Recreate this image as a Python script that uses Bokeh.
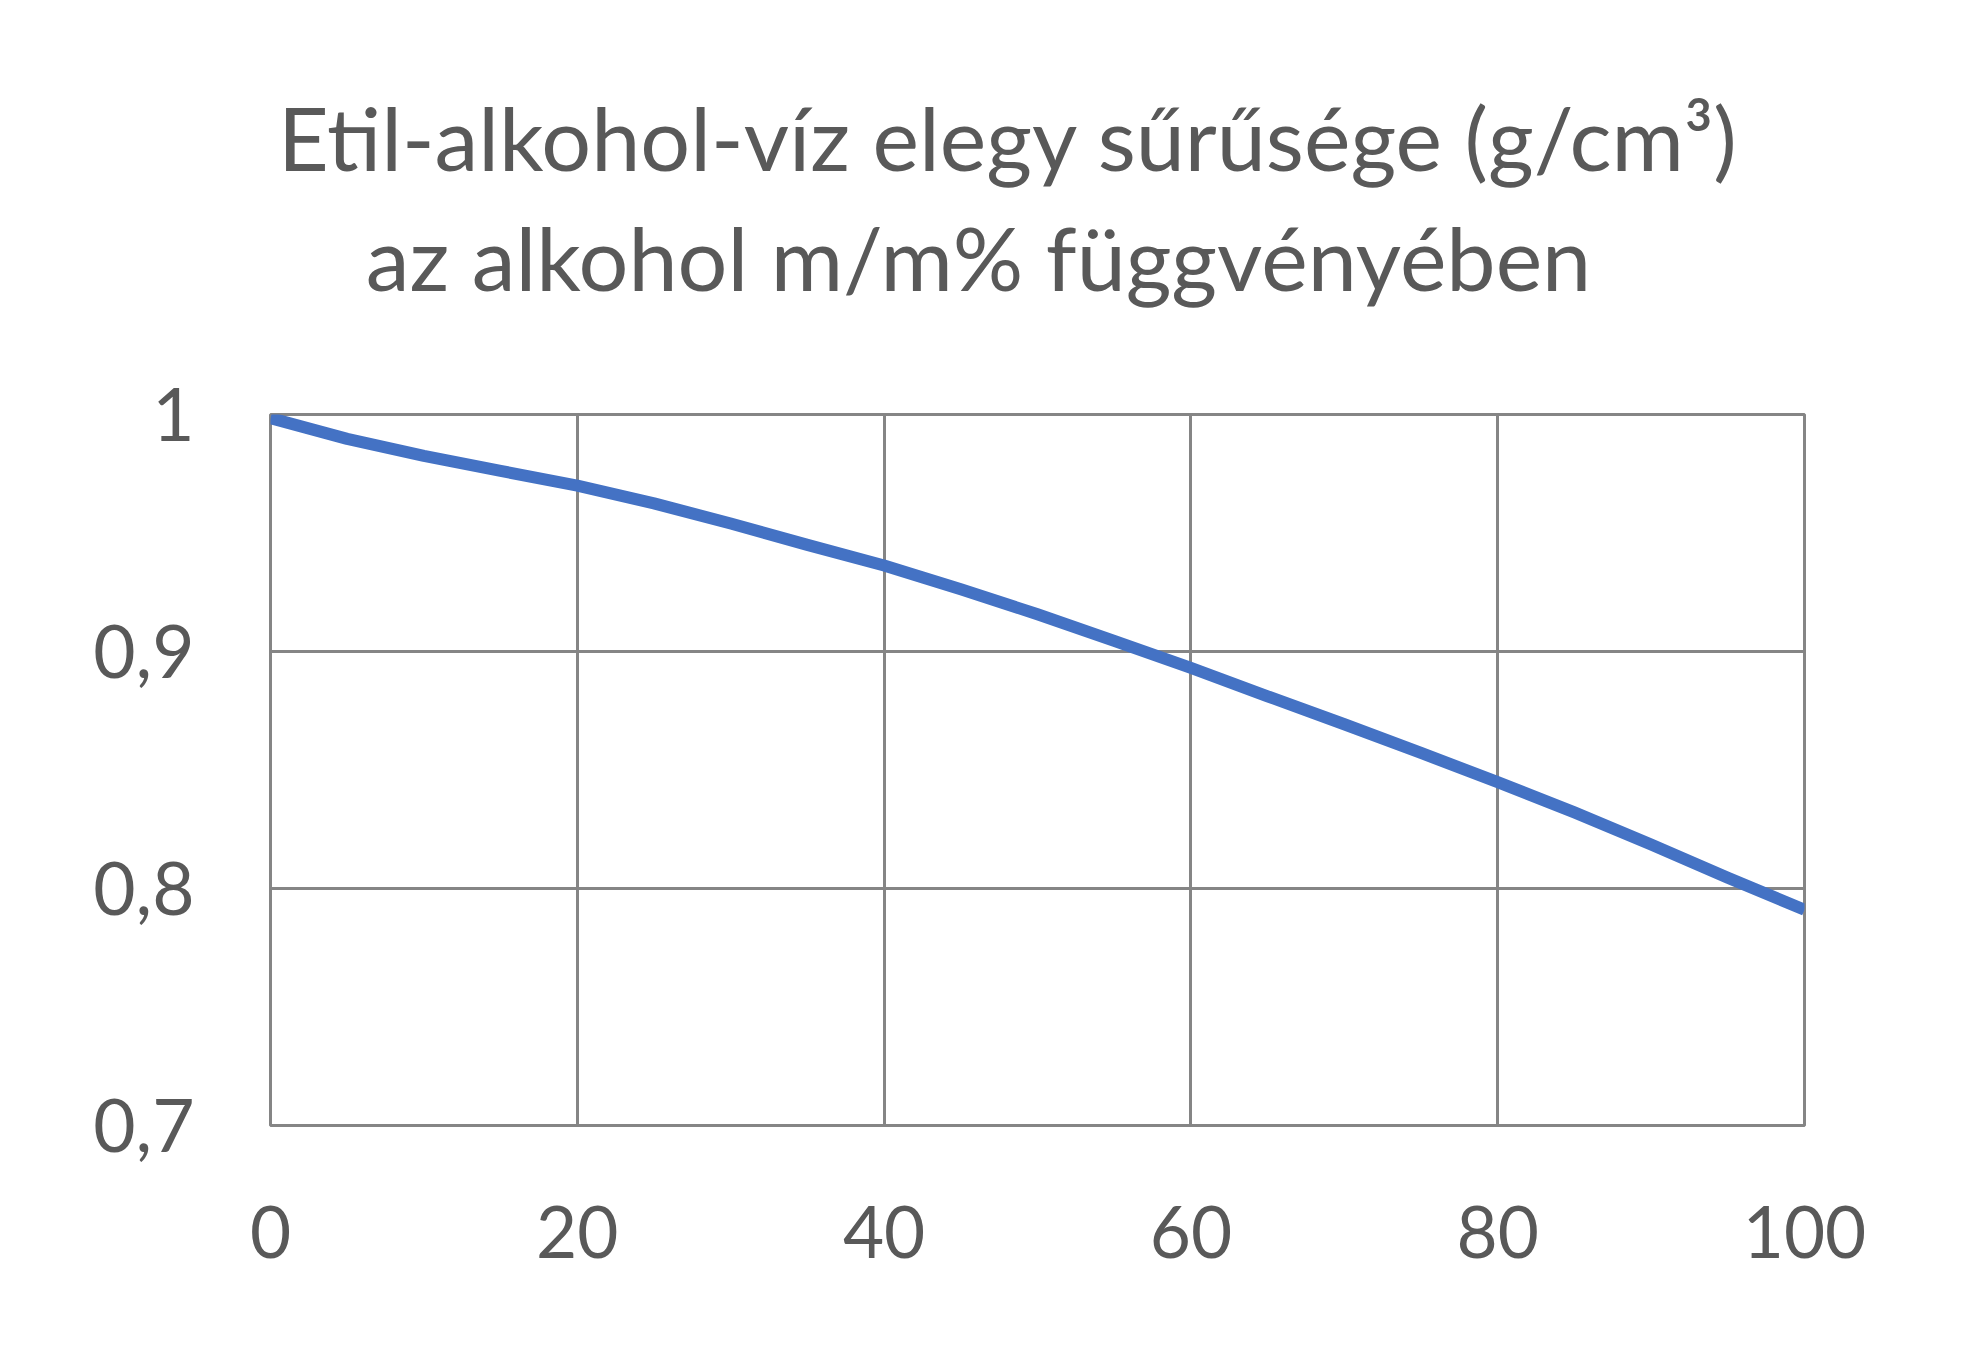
from bokeh.plotting import figure
from bokeh.models import Range1d, FixedTicker
from bokeh.layouts import column
from bokeh.core.properties import value
from bokeh.embed import file_html
from bokeh.resources import INLINE

# Data: alcohol mass % vs density (g/cm3)
mass_percent = [0, 5, 10, 15, 20, 25, 30, 35, 40, 45, 50, 55, 60, 65, 70, 75, 80, 85, 90, 95, 100]
density = [0.9985, 0.9897, 0.9825, 0.9762, 0.9700, 0.9625, 0.9540, 0.9450, 0.9363, 0.9263, 0.9157,
           0.9045, 0.8931, 0.8811, 0.8693, 0.8572, 0.8449, 0.8321, 0.8186, 0.8045, 0.7910]

x_ticks = [0, 20, 40, 60, 80, 100]
y_ticks = [0.7, 0.8, 0.9, 1.0]
y_tick_labels = ["0,7", "0,8", "0,9", "1"]

title_lines = ["Etil-alkohol-víz elegy sűrűsége (g/cm³)", "az alkohol m/m% függvényében"]

FONT = "Lato"
TEXT = "#595959"
GRID = "#858585"
LINE = "#4472C4"

W, H = 1964, 1348
TH = 330  # height of the title strip (pixels)
FL, FR = 270, 1804  # plot frame left/right in page pixels

# --- title strip: a bare figure whose ranges are page pixels ---
t = figure(width=W, height=TH, output_backend="svg", toolbar_location=None,
           x_range=Range1d(FL, FR), y_range=Range1d(0, TH),
           min_border=0, outline_line_color=None)
t.axis.visible = False
t.grid.visible = False
t.text(x=[1008, 978], y=[194, 74], text=title_lines,
       text_align="center", text_baseline="alphabetic",
       text_font=value(FONT), text_font_size="88px", text_color=TEXT)

# --- chart ---
p = figure(width=W, height=H - TH, output_backend="svg", toolbar_location=None,
           x_range=Range1d(0, 100), y_range=Range1d(0.7, 1.0),
           min_border_left=FL, min_border_right=W - FR,
           min_border_top=414 - TH, min_border_bottom=223)

p.outline_line_color = GRID
p.outline_line_width = 3

for ax in (p.xaxis[0], p.yaxis[0]):
    ax.axis_line_color = None
    ax.major_tick_line_color = None
    ax.minor_tick_line_color = None
    ax.major_tick_out = 0
    ax.major_tick_in = 0
    ax.major_label_text_font = FONT
    ax.major_label_text_color = TEXT

p.xaxis[0].major_label_text_font_size = "71px"
p.yaxis[0].major_label_text_font_size = "73px"
p.xaxis[0].ticker = FixedTicker(ticks=x_ticks)
p.yaxis[0].ticker = FixedTicker(ticks=y_ticks)
p.yaxis[0].major_label_overrides = {t_: s for t_, s in zip(y_ticks, y_tick_labels)}
p.xaxis[0].major_label_standoff = 80
p.yaxis[0].major_label_standoff = 76

p.xgrid.ticker = FixedTicker(ticks=x_ticks)
p.ygrid.ticker = FixedTicker(ticks=y_ticks)
p.grid.grid_line_color = GRID
p.grid.grid_line_width = 3

p.line(mass_percent, density, line_color=LINE, line_width=12, line_join="round")

layout = column(t, p, spacing=0)
open("out.html", "w").write(file_html(layout, INLINE))
